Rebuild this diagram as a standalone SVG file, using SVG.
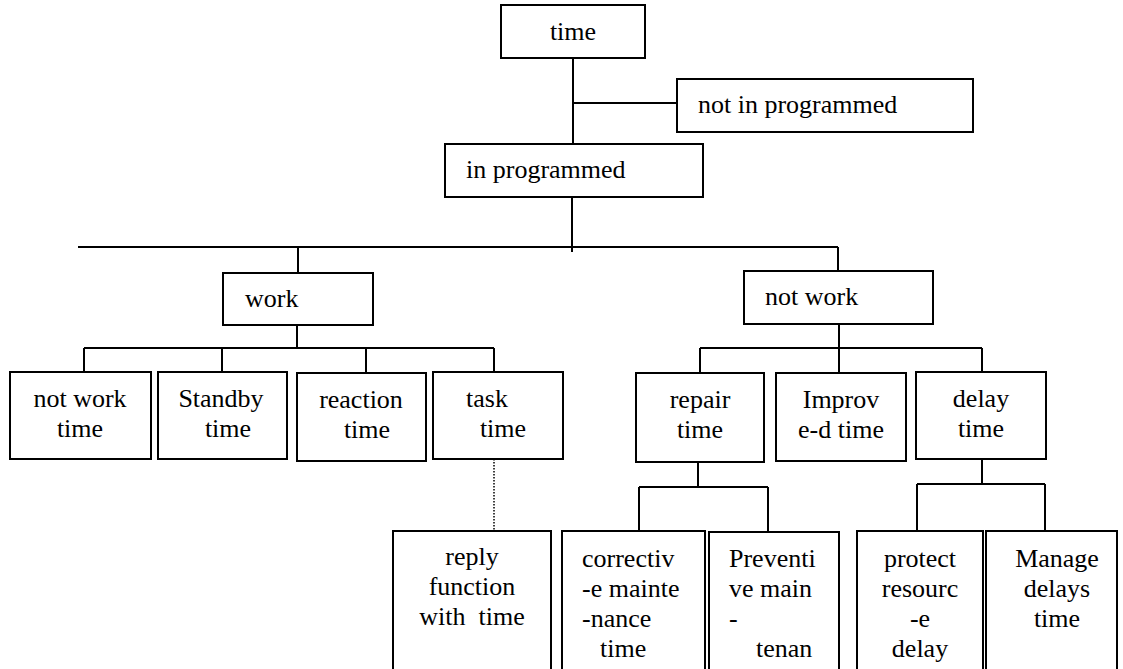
<svg xmlns="http://www.w3.org/2000/svg" width="1123" height="669" viewBox="0 0 1123 669">
<style>
.box{fill:#fff;stroke:#000;stroke-width:2}
.lbl{font-family:"Liberation Serif","Times New Roman",serif;font-size:26px;fill:#000}
.c{text-anchor:middle}
.ln{stroke:#000;stroke-width:2}
.dot{stroke:#000;stroke-width:1.5;stroke-dasharray:1.5 1.5}
</style>
<rect x="0" y="0" width="1123" height="669" fill="#fff"/>
<g id="connectors">
<line class="ln" x1="573" y1="58" x2="573" y2="144"/>
<line class="ln" x1="573" y1="103" x2="677" y2="103"/>
<line class="ln" x1="572" y1="197" x2="572" y2="252"/>
<line class="ln" x1="78" y1="247" x2="838" y2="247"/>
<line class="ln" x1="298" y1="247" x2="298" y2="273"/>
<line class="ln" x1="838" y1="247" x2="838" y2="271"/>
<line class="ln" x1="297" y1="325" x2="297" y2="348"/>
<line class="ln" x1="84" y1="348" x2="494" y2="348"/>
<line class="ln" x1="84" y1="348" x2="84" y2="372"/>
<line class="ln" x1="222" y1="348" x2="222" y2="372"/>
<line class="ln" x1="366" y1="348" x2="366" y2="373"/>
<line class="ln" x1="494" y1="348" x2="494" y2="372"/>
<line class="ln" x1="839" y1="324" x2="839" y2="348"/>
<line class="ln" x1="700" y1="348" x2="982" y2="348"/>
<line class="ln" x1="700" y1="348" x2="700" y2="373"/>
<line class="ln" x1="839" y1="348" x2="839" y2="373"/>
<line class="ln" x1="982" y1="348" x2="982" y2="372"/>
<line class="dot" x1="494" y1="459" x2="494" y2="531"/>
<line class="ln" x1="698" y1="462" x2="698" y2="487"/>
<line class="ln" x1="639" y1="487" x2="768" y2="487"/>
<line class="ln" x1="639" y1="487" x2="639" y2="531"/>
<line class="ln" x1="768" y1="487" x2="768" y2="532"/>
<line class="ln" x1="982" y1="459" x2="982" y2="484"/>
<line class="ln" x1="917" y1="484" x2="1045" y2="484"/>
<line class="ln" x1="917" y1="484" x2="917" y2="531"/>
<line class="ln" x1="1045" y1="484" x2="1045" y2="531"/>
</g>
<g id="n-time"><rect class="box" x="501" y="5" width="144" height="53"/><text class="lbl c" x="573" y="40">time</text></g>
<g id="n-notinprog"><rect class="box" x="677" y="79" width="296" height="53"/><text class="lbl" x="698" y="113">not in programmed</text></g>
<g id="n-inprog"><rect class="box" x="445" y="144" width="258" height="53"/><text class="lbl" x="466" y="178">in programmed</text></g>
<g id="n-work"><rect class="box" x="223" y="273" width="150" height="52"/><text class="lbl" x="245" y="307">work</text></g>
<g id="n-notwork"><rect class="box" x="744" y="271" width="189" height="53"/><text class="lbl" x="765" y="305">not work</text></g>
<g id="n-notworktime"><rect class="box" x="10" y="372" width="141" height="87"/><text class="lbl c" x="80" y="407">not work</text><text class="lbl c" x="80" y="437">time</text></g>
<g id="n-standby"><rect class="box" x="158" y="372" width="129" height="87"/><text class="lbl c" x="221" y="407">Standby</text><text class="lbl c" x="228" y="437">time</text></g>
<g id="n-reaction"><rect class="box" x="297" y="373" width="129" height="88"/><text class="lbl c" x="361" y="408">reaction</text><text class="lbl c" x="367" y="438">time</text></g>
<g id="n-task"><rect class="box" x="433" y="372" width="130" height="87"/><text class="lbl c" x="487" y="407">task</text><text class="lbl c" x="503" y="437">time</text></g>
<g id="n-repair"><rect class="box" x="636" y="373" width="128" height="89"/><text class="lbl c" x="700" y="408">repair</text><text class="lbl c" x="700" y="438">time</text></g>
<g id="n-improv"><rect class="box" x="776" y="373" width="130" height="88"/><text class="lbl c" x="841" y="408">Improv</text><text class="lbl c" x="841" y="438">e-d time</text></g>
<g id="n-delay"><rect class="box" x="916" y="372" width="130" height="87"/><text class="lbl c" x="981" y="407">delay</text><text class="lbl c" x="981" y="437">time</text></g>
<g id="n-reply"><rect class="box" x="393" y="531" width="158" height="150"/><text class="lbl c" x="472" y="565">reply</text><text class="lbl c" x="472" y="595">function</text><text class="lbl c" x="472" y="625">with&#160; time</text></g>
<g id="n-corrective"><rect class="box" x="562" y="531" width="143" height="150"/><text class="lbl" x="582" y="567">correctiv</text><text class="lbl" x="582" y="597">-e mainte</text><text class="lbl" x="582" y="627">-nance</text><text class="lbl" x="600" y="657">time</text></g>
<g id="n-preventive"><rect class="box" x="709" y="532" width="130" height="150"/><text class="lbl" x="729" y="567">Preventi</text><text class="lbl" x="729" y="597">ve main</text><text class="lbl" x="729" y="627">-</text><text class="lbl" x="756" y="657">tenan</text></g>
<g id="n-protect"><rect class="box" x="857" y="531" width="126" height="150"/><text class="lbl c" x="920" y="567">protect</text><text class="lbl c" x="920" y="597">resourc</text><text class="lbl c" x="920" y="627">-e</text><text class="lbl c" x="920" y="657">delay</text></g>
<g id="n-manage"><rect class="box" x="986" y="531" width="131" height="150"/><text class="lbl c" x="1057" y="567">Manage</text><text class="lbl c" x="1057" y="597">delays</text><text class="lbl c" x="1057" y="627">time</text></g>
</svg>
